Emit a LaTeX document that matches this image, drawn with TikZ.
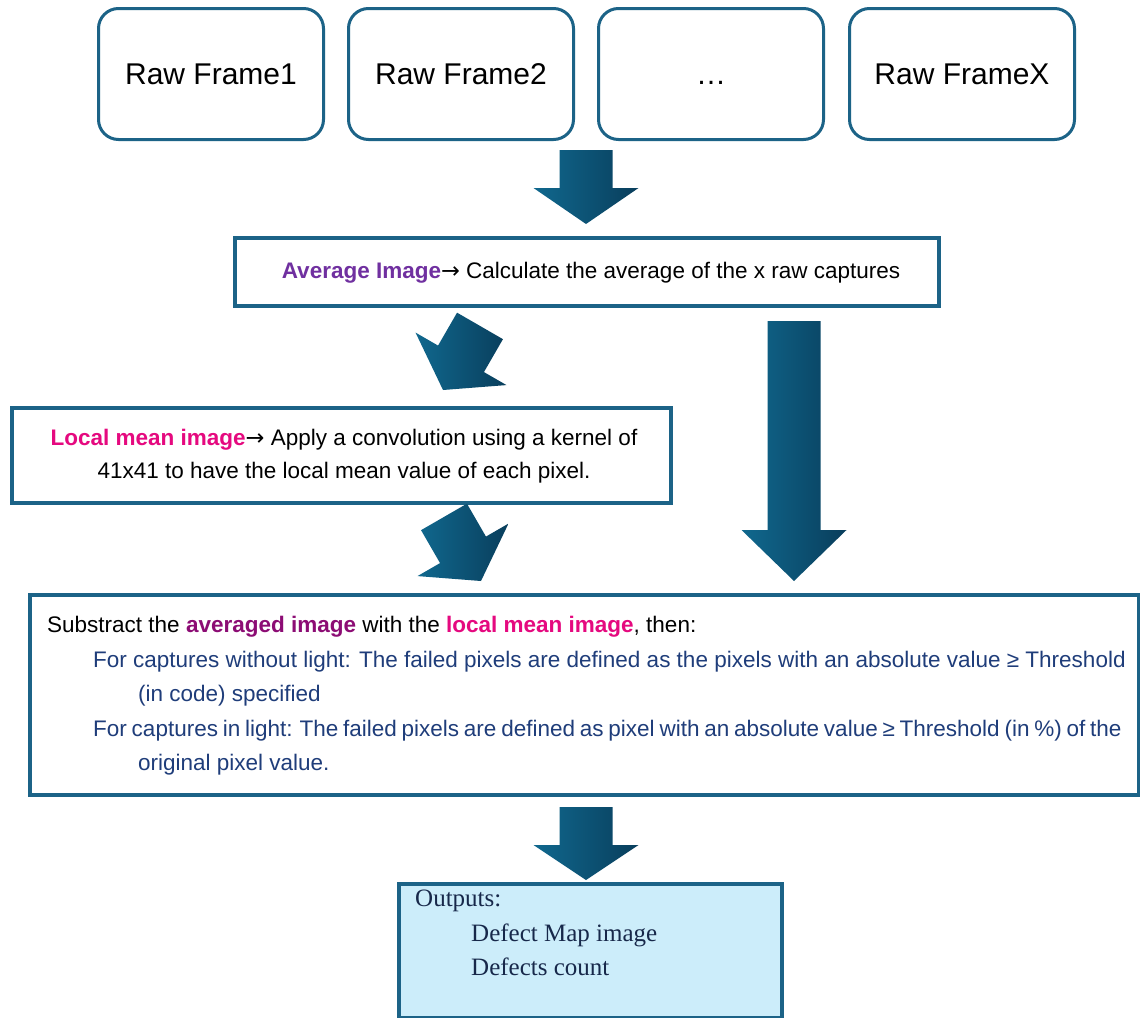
\documentclass[tikz,border=0pt]{standalone}
\usepackage{fontspec}
\setmainfont{Liberation Sans}
\newfontfamily\serifout{Liberation Serif}
\newfontfamily\arrowfont{DejaVu Sans}
\definecolor{edge}{RGB}{28,99,135}
\definecolor{arrA}{RGB}{16,104,142}
\definecolor{arrB}{RGB}{9,62,92}
\definecolor{avgpurple}{RGB}{112,48,160}
\definecolor{lmpink}{RGB}{229,9,127}
\definecolor{avgdark}{RGB}{140,12,116}
\definecolor{bluetxt}{RGB}{31,61,122}
\definecolor{outfill}{RGB}{204,237,250}
\definecolor{outtxt}{RGB}{23,40,74}
\newcommand\rarr{{\arrowfont →}}
\newcommand\blockarr[6]{%
  \shade[left color=arrA, right color=arrB, shift={(#1,#2)}, rotate=#3]
    (0,0) -- (-52.5,-#5) -- (-26.5,-#5) -- (-26.5,-#4) -- (26.5,-#4)
    -- (26.5,-#5) -- (52.5,-#5) -- cycle;
  \coordinate (#6) at (#1,#2);}
\begin{document}
\begin{tikzpicture}[x=1pt,y=-1pt,
  framebox/.style={draw=edge, line width=3pt, rounded corners=20pt, minimum width=225pt,
    minimum height=131pt, anchor=north west, font=\fontsize{30}{36}\selectfont, inner sep=0pt},
  stepbox/.style={draw=edge, line width=3.5pt, anchor=north west, inner sep=0pt}]
\useasboundingbox (0,0) rectangle (1140,1017);
\fill[white] (0,0) rectangle (1140,1017);

% raw frames
\node[framebox] (f1) at (97,7) {Raw Frame1};
\node[framebox] (f2) at (347,7) {Raw Frame2};
\node[framebox] (f3) at (597,7) {\vphantom{Raw}…};
\node[framebox] (f4) at (848,7) {Raw FrameX};

% average box
\node[stepbox, minimum width=704pt, minimum height=68pt] (avg) at (233,236) {};
\node[font=\fontsize{22.5}{27}\selectfont] (avgt) at (591,273)
  {\textcolor{avgpurple}{\bfseries Average Image}\rarr\ Calculate the average of the x raw captures};

% local mean box
\node[stepbox, minimum width=659pt, minimum height=95pt] (lm) at (10,406) {};
\node[font=\fontsize{22.5}{33}\selectfont, align=center] (lmt) at (344,456)
  {\textcolor{lmpink}{\bfseries Local mean image}\rarr\ Apply a convolution using a kernel of\\
   41x41 to have the local mean value of each pixel.};

% substract box
\node[stepbox, minimum width=1109pt, minimum height=200pt] (sub) at (28,593) {};
\node[font=\fontsize{22.5}{34.6}\selectfont, align=left, anchor=north west, inner sep=0pt] (subt) at (47,616)
  {Substract the \textcolor{avgdark}{\bfseries averaged image} with the \textcolor{lmpink}{\bfseries local mean image}, then:\\
   \color{bluetxt}\hspace*{46pt}For captures without light: The failed pixels are defined as the pixels with an absolute value ≥ Threshold\\
   \color{bluetxt}\hspace*{91pt}(in code) specified\\
   \color{bluetxt}\hspace*{46pt}{\spaceskip=4.8pt\relax For captures in light: The failed pixels are defined as pixel with an absolute value ≥ Threshold (in \%) of the}\\
   \color{bluetxt}\hspace*{91pt}original pixel value.};

% outputs box
\node[stepbox, draw=edge, fill=outfill, minimum width=383pt, minimum height=134pt] (out) at (397,882) {};
\node[font=\serifout\fontsize{25}{34.5}\selectfont, text=outtxt, align=left, anchor=north west, inner sep=0pt] (outt) at (415,890)
  {Outputs:\\ \hspace*{56pt}Defect Map image\\ \hspace*{56pt}Defects count};

% block arrows
\blockarr{586}{224}{0}{74}{36}{a1}
\blockarr{443}{390}{-30}{74}{36}{a2}
\blockarr{481}{581}{30}{74}{36}{a3}
\blockarr{794}{581}{0}{260}{51}{a4}
\blockarr{586}{880}{0}{73}{35}{a5}
\end{tikzpicture}
\end{document}
